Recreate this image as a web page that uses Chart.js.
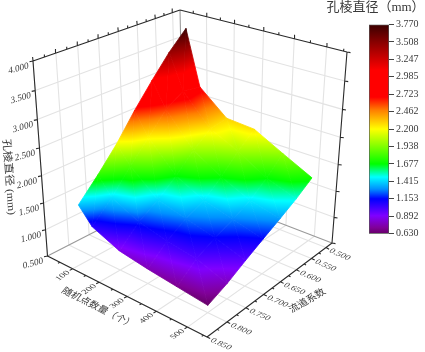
<!DOCTYPE html>
<html lang="en">
<head>
<meta charset="UTF-8">
<title>孔棱直径</title>
<style>
  html, body { margin: 0; padding: 0; background: #fff; }
  #wrap { position: relative; width: 425px; height: 352px; overflow: hidden; }
  canvas { position: absolute; top: 0; }
  #chart { left: 0; }
  #bar { left: 340px; }
</style>
<script src="https://cdn.jsdelivr.net/npm/chart.js"></script>
</head>
<body>
<div id="wrap">
  <canvas id="chart" width="425" height="352"></canvas>
  <canvas id="bar" width="85" height="352"></canvas>
</div>
<script>
// values
const pointCounts = [50, 100, 200, 300, 400, 500];
const flowCoefs = [0.5, 0.55, 0.6, 0.65, 0.7, 0.75, 0.8];
const row050 = [3.77, 2.74, 2.30, 2.26, 1.98, 1.71];
const row055 = [3.45, 2.80, 2.25, 2.00, 1.68, 1.50];
const row060 = [3.06, 2.60, 2.00, 1.69, 1.45, 1.32];
const row065 = [2.64, 2.22, 1.68, 1.43, 1.29, 1.15];
const row070 = [2.17, 1.85, 1.41, 1.28, 1.15, 0.97];
const row075 = [1.76, 1.43, 1.19, 1.06, 0.98, 0.78];
const row080 = [1.38, 1.08, 0.86, 0.77, 0.70, 0.63];
const diameters = [row050, row055, row060, row065, row070, row075, row080];

const xTicks = [100, 200, 300, 400, 500];
const xMinor = [50, 150, 250, 350, 450, 550];
const yTicks = [0.5, 0.55, 0.6, 0.65, 0.7, 0.75, 0.8, 0.85];
const yMinor = [0.525, 0.575, 0.625, 0.675, 0.725, 0.775, 0.825];
const zTicks = [0.5, 1, 1.5, 2, 2.5, 3, 3.5, 4];
const colorTicks = [0.63, 0.892, 1.153, 1.415, 1.677, 1.938, 2.2, 2.462, 2.723, 2.985, 3.247, 3.508, 3.77];
const colorValues = [0.63, 0.72, 0.9, 1.153, 1.3, 1.48, 1.677, 2.2, 2.48, 2.68, 3.08, 3.5, 3.77];
const colorHexes = ['#660066', '#800099', '#7f00ff', '#0000ff', '#0090ff', '#00ffff', '#00ff00', '#ffff00', '#ff8000', '#ff0000', '#ff0000', '#8a0000', '#3a0000'];

// box of the 3d plot, on screen
const xMax = 560, yFront = 0.85, yBack = 0.478, zLow = 0.5, zHigh = 4;
const floorCorners = [[47.5, 256], [207, 337], [332, 243], [184, 186]];
const topCorners = [[33, 61], [209.5, 122], [347, 52], [180, 10]];

function quadMap(q) {
  const [p0, p1, p2, p3] = q;
  const dx1 = p1[0] - p2[0], dx2 = p3[0] - p2[0], sx = p0[0] - p1[0] + p2[0] - p3[0];
  const dy1 = p1[1] - p2[1], dy2 = p3[1] - p2[1], sy = p0[1] - p1[1] + p2[1] - p3[1];
  const den = dx1 * dy2 - dx2 * dy1;
  const g = (sx * dy2 - dx2 * sy) / den, h = (dx1 * sy - sx * dy1) / den;
  const a = p1[0] - p0[0] + g * p1[0], b = p3[0] - p0[0] + h * p3[0];
  const d = p1[1] - p0[1] + g * p1[1], e = p3[1] - p0[1] + h * p3[1];
  return (u, v) => {
    const k = g * u + h * v + 1;
    return [(a * u + b * v + p0[0]) / k, (d * u + e * v + p0[1]) / k];
  };
}
const floorMap = quadMap(floorCorners);
const topMap = quadMap(topCorners);

function project(x, y, z) {
  const u = x / xMax, v = (yFront - y) / (yFront - yBack);
  const w = (z - zLow) / (zHigh - zLow);
  const t = w / (w + 1.074 * (1 - w));
  const f = floorMap(u, v), c = topMap(u, v);
  return { x: f[0] + (c[0] - f[0]) * t, y: f[1] + (c[1] - f[1]) * t };
}

// line list with gaps between the pieces
function pieces(list) {
  const out = [];
  list.forEach(seg => { out.push(...seg, { x: null, y: null }); });
  return out;
}
function lineSet(list, color, width, order) {
  return { data: pieces(list), showLine: true, spanGaps: false, borderColor: color, borderWidth: width,
    pointRadius: 0, fill: false, order: order, clip: false };
}
function ticked(p, dx, dy) {
  return [p, { x: p.x + dx, y: p.y + dy }];
}

const gridLines = [];
xTicks.forEach(x => {
  gridLines.push([project(x, yFront, zLow), project(x, yBack, zLow)]);
  gridLines.push([project(x, yBack, zLow), project(x, yBack, zHigh)]);
});
yTicks.forEach(y => {
  gridLines.push([project(0, y, zLow), project(xMax, y, zLow)]);
  gridLines.push([project(0, y, zLow), project(0, y, zHigh)]);
});
zTicks.slice(1, -1).forEach(z => {
  gridLines.push([project(0, yFront, z), project(0, yBack, z)]);
  gridLines.push([project(0, yBack, z), project(xMax, yBack, z)]);
});

const boxLines = [
  [project(0, yFront, zLow), project(0, yBack, zLow)],
  [project(0, yBack, zLow), project(xMax, yBack, zLow)],
  [project(0, yBack, zLow), project(0, yBack, zHigh)]
];

const axisLines = [
  [project(0, yFront, zLow), project(xMax, yFront, zLow)],
  [project(xMax, yFront, zLow), project(xMax, yBack, zLow)],
  [project(0, yFront, zLow), project(0, yFront, zHigh)],
  [project(0, yFront, zHigh), project(0, yBack, zHigh)],
  [project(0, yBack, zHigh), project(xMax, yBack, zHigh)],
  [project(xMax, yBack, zHigh), project(xMax, yBack, zLow)]
];
xTicks.forEach(x => {
  axisLines.push(ticked(project(x, yFront, zLow), -3, 1.6));
  axisLines.push(ticked(project(x, yBack, zHigh), 0.3, -4));
});
xMinor.forEach(x => {
  axisLines.push(ticked(project(x, yFront, zLow), -2, 1));
  axisLines.push(ticked(project(x, yBack, zHigh), 0.2, -2.5));
});
yTicks.forEach(y => {
  axisLines.push(ticked(project(xMax, y, zLow), 3.2, 1.6));
  axisLines.push(ticked(project(0, y, zHigh), -0.4, -4));
});
yMinor.forEach(y => {
  axisLines.push(ticked(project(xMax, y, zLow), 2, 1));
  axisLines.push(ticked(project(0, y, zHigh), -0.2, -2.5));
});
zTicks.forEach(z => {
  axisLines.push(ticked(project(0, yFront, z), -3.5, 0.8));
  axisLines.push(ticked(project(xMax, yBack, z), 3.5, 0.6));
});

// colour of the map at one value
function colorAt(z) {
  if (z <= colorValues[0]) return colorHexes[0];
  for (let i = 1; i < colorValues.length; i++) {
    if (z <= colorValues[i]) {
      const t = (z - colorValues[i - 1]) / (colorValues[i] - colorValues[i - 1]);
      const a = colorHexes[i - 1], b = colorHexes[i];
      const mix = n => {
        const p = parseInt(a.substr(n, 2), 16), q = parseInt(b.substr(n, 2), 16);
        return Math.round(p + (q - p) * t);
      };
      return 'rgb(' + mix(1) + ',' + mix(3) + ',' + mix(5) + ')';
    }
  }
  return colorHexes[colorHexes.length - 1];
}

function addStops(grad, lo, hi) {
  grad.addColorStop(0, colorAt(lo));
  colorValues.forEach((v, i) => {
    if (v > lo && v < hi) grad.addColorStop((v - lo) / (hi - lo), colorHexes[i]);
  });
  grad.addColorStop(1, colorAt(hi));
}

// a triangle with a value at each corner is a straight ramp on screen
function triGradient(chart, tri) {
  const sx = chart.scales.x, sy = chart.scales.y;
  if (!sx || !sy) return 'transparent';
  const p = tri.map(t => ({ x: sx.getPixelForValue(t.x), y: sy.getPixelForValue(t.y), z: t.z }));
  const ax = p[1].x - p[0].x, ay = p[1].y - p[0].y, az = p[1].z - p[0].z;
  const bx = p[2].x - p[0].x, by = p[2].y - p[0].y, bz = p[2].z - p[0].z;
  const det = ax * by - bx * ay;
  const gx = (az * by - bz * ay) / det, gy = (ax * bz - bx * az) / det;
  const lo = p.reduce((m, t) => t.z < m.z ? t : m, p[0]).z;
  const hi = p.reduce((m, t) => t.z > m.z ? t : m, p[0]).z;
  const start = p.find(t => t.z === lo);
  const len2 = gx * gx + gy * gy;
  if (hi - lo < 1e-6 || !isFinite(len2) || len2 === 0) return colorAt(lo);
  const k = (hi - lo) / len2;
  const grad = chart.ctx.createLinearGradient(start.x, start.y, start.x + gx * k, start.y + gy * k);
  addStops(grad, lo, hi);
  return grad;
}

function surfaceSets() {
  const sets = [];
  const vert = (i, j) => {
    const p = project(pointCounts[j], flowCoefs[i], diameters[i][j]);
    return { x: p.x, y: p.y, z: diameters[i][j] };
  };
  for (let i = 0; i < flowCoefs.length - 1; i++) {
    for (let j = 0; j < pointCounts.length - 1; j++) {
      const a = vert(i, j), b = vert(i, j + 1), c = vert(i + 1, j + 1), d = vert(i + 1, j);
      [[a, b, c], [a, c, d]].forEach(tri => {
        const paint = ctx => triGradient(ctx.chart, tri);
        sets.push({ data: [tri[0], tri[1], tri[2], tri[0]], showLine: true, fill: 'shape',
          backgroundColor: paint, borderColor: paint, borderWidth: 0.8, pointRadius: 0, order: 3, clip: false });
      });
    }
  }
  return sets;
}

const serif = '"Liberation Serif", "Noto Sans CJK SC", serif';
const textColor = '#3a3a3a';

function putText(ctx, text, cx, cy, b, d, font) {
  ctx.save();
  ctx.transform(b[0], b[1], d[0], d[1], cx, cy);
  ctx.font = font;
  ctx.fillStyle = textColor;
  ctx.textAlign = 'center';
  ctx.textBaseline = 'middle';
  ctx.fillText(text, 0, 0);
  ctx.restore();
}

const plotText = {
  id: 'plotText',
  afterDraw(chart) {
    const ctx = chart.ctx, sx = chart.scales.x, sy = chart.scales.y;
    const at = p => [sx.getPixelForValue(p.x), sy.getPixelForValue(p.y)];
    zTicks.forEach(z => {
      const [px, py] = at(project(0, yFront, z));
      putText(ctx, z.toFixed(3), px - 14.5, py + 7.5, [0.95, -0.26], [0.06, 1], '9.5px ' + serif);
    });
    xTicks.forEach(x => {
      const [px, py] = at(project(x, yFront, zLow));
      putText(ctx, String(x), px - 10, py + 7, [0.82, -0.57], [0.72, 0.45], '9.5px ' + serif);
    });
    yTicks.forEach(y => {
      const [px, py] = at(project(xMax, y, zLow));
      putText(ctx, y.toFixed(3), px + 14, py + 7, [0.92, 0.4], [-0.6, 0.62], '9.5px ' + serif);
    });
    putText(ctx, '孔棱直径 (mm)', 8.5, 177, [0.08, 1.12], [-1, 0.08], '10.5px ' + serif);
    putText(ctx, '随机点数量（个）', 98, 308, [0.89, 0.45], [-0.6, 0.75], '10px ' + serif);
    putText(ctx, '流道系数', 307.5, 301, [0.87, -0.5], [0.62, 0.75], '10px ' + serif);
    putText(ctx, '孔棱直径（mm）', 375.5, 8, [1, 0], [0, 1], '13px ' + serif);
  }
};

new Chart(document.getElementById('chart').getContext('2d'), {
  type: 'scatter',
  data: {
    datasets: [
      lineSet(gridLines, '#e3e3e3', 1.1, 6),
      lineSet(boxLines, '#9a9a9a', 1.1, 5),
      ...surfaceSets(),
      lineSet(axisLines, '#2a2a2a', 1.1, 1)
    ]
  },
  options: {
    responsive: false,
    animation: false,
    devicePixelRatio: 1,
    layout: { padding: 0 },
    plugins: { legend: { display: false }, tooltip: { enabled: false } },
    scales: {
      x: { type: 'linear', min: 0, max: 425, display: false },
      y: { type: 'linear', min: 0, max: 352, reverse: true, display: false }
    }
  },
  plugins: [plotText]
});

new Chart(document.getElementById('bar').getContext('2d'), {
  type: 'bar',
  data: {
    labels: [''],
    datasets: [{
      data: [[colorTicks[0], colorTicks[colorTicks.length - 1]]],
      barPercentage: 1,
      categoryPercentage: 1,
      borderWidth: 1,
      borderColor: '#555',
      borderSkipped: false,
      backgroundColor: ctx => {
        const s = ctx.chart.scales.y;
        if (!s) return 'transparent';
        const lo = colorTicks[0], hi = colorTicks[colorTicks.length - 1];
        const y0 = s.getPixelForValue(lo), y1 = s.getPixelForValue(hi);
        if (!isFinite(y0) || !isFinite(y1)) return 'transparent';
        const grad = ctx.chart.ctx.createLinearGradient(0, y0, 0, y1);
        addStops(grad, lo, hi);
        return grad;
      }
    }]
  },
  options: {
    responsive: false,
    animation: false,
    devicePixelRatio: 1,
    layout: { padding: { left: 29, top: 24.5, bottom: 118.3, right: 0 } },
    plugins: { legend: { display: false }, tooltip: { enabled: false } },
    scales: {
      x: { display: false },
      y: {
        position: 'right',
        min: colorTicks[0],
        max: colorTicks[colorTicks.length - 1],
        grid: { drawOnChartArea: false, drawTicks: true, tickLength: 5, color: '#444' },
        border: { display: false },
        ticks: { autoSkip: false, padding: 2, color: textColor, font: { family: serif, size: 10 }, callback: v => v.toFixed(3) },
        afterBuildTicks: ax => { ax.ticks = colorTicks.map(v => ({ value: v })); },
        afterFit: ax => { ax.width = 36; }
      }
    }
  }
});
</script>
</body>
</html>
